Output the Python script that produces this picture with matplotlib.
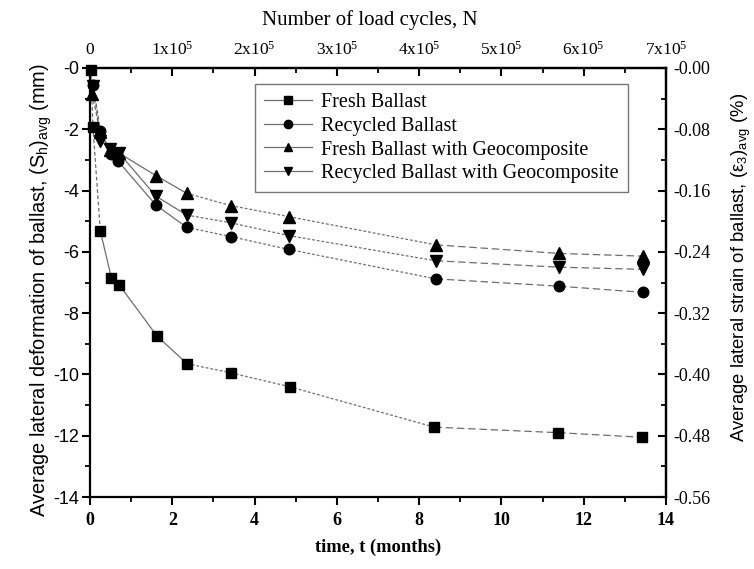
import matplotlib
matplotlib.use("Agg")
import matplotlib.pyplot as plt
from matplotlib.lines import Line2D
from matplotlib.ticker import MultipleLocator, FuncFormatter, FixedLocator

plt.rcParams["axes.unicode_minus"] = False
plt.rcParams["mathtext.default"] = "regular"

SERIF = ["Liberation Serif", "DejaVu Serif"]
SANS = ["Liberation Sans", "DejaVu Sans"]

# time (months) and average lateral deformation (mm) for each ballast type
t_fresh = [0.02, 0.07, 0.25, 0.52, 0.71, 1.63, 2.36, 3.43, 4.85, 8.37, 11.38, 13.42]
s_fresh = [-0.05, -1.92, -5.32, -6.85, -7.08, -8.75, -9.65, -9.95, -10.40, -11.72, -11.90, -12.05]

t_recycled = [0.08, 0.25, 0.50, 0.69, 1.60, 2.35, 3.42, 4.83, 8.40, 11.40, 13.43]
s_recycled = [-0.55, -2.05, -2.80, -3.05, -4.47, -5.20, -5.50, -5.92, -6.88, -7.12, -7.32]

t_fresh_geo = [0.05, 0.25, 0.49, 0.71, 1.60, 2.35, 3.42, 4.83, 8.40, 11.40, 13.43]
s_fresh_geo = [-0.85, -2.10, -2.68, -2.78, -3.51, -4.09, -4.49, -4.85, -5.77, -6.05, -6.14]

t_recycled_geo = [0.08, 0.25, 0.49, 0.71, 1.60, 2.35, 3.42, 4.83, 8.40, 11.40, 13.43]
s_recycled_geo = [-0.60, -2.37, -2.65, -2.78, -4.18, -4.80, -5.05, -5.47, -6.29, -6.50, -6.57]

labels = ["Fresh Ballast", "Recycled Ballast",
          "Fresh Ballast with Geocomposite", "Recycled Ballast with Geocomposite"]
markers = ["s", "o", "^", "v"]

# axis scales
y_ticks = list(range(0, -15, -2))
strain_per_mm = 0.04          # (%) strain per mm of lateral deformation
cycles_per_month = 5e4        # load cycles per month
top_ticks = [0, 1e5, 2e5, 3e5, 4e5, 5e5, 6e5, 7e5]
top_labels = ["0"] + [f"{k}x10$^{{5}}$" for k in range(1, 8)]
strain_ticks = [-0.08 * k for k in range(8)]

fig = plt.figure(figsize=(7.54, 5.69), dpi=100)
ax = fig.add_axes([0.1194, 0.1265, 0.7639, 0.7540])

LINE_C = "#6e6e6e"


def seg_style(t_end):
    if t_end <= 0.3:
        return (0, (3, 2))
    if t_end <= 2.4:
        return "-"
    if t_end <= 8.5:
        return (0, (2.2, 1.6))
    return (0, (6, 3))


series = [(t_fresh, s_fresh), (t_recycled, s_recycled),
          (t_fresh_geo, s_fresh_geo), (t_recycled_geo, s_recycled_geo)]
msizes = [7.2, 7.6, 8.2, 8.2]

for (tx, sy), mk, ms in zip(series, markers, msizes):
    for i in range(len(tx) - 1):
        ax.plot(tx[i:i + 2], sy[i:i + 2], color=LINE_C, lw=0.9,
                ls=seg_style(tx[i + 1]), zorder=2)
    ax.plot(tx, sy, ls="none", marker=mk, ms=ms, color="black",
            mfc="black", mec="black", zorder=3, clip_on=False)

ax.set_xlim(0, 14)
ax.set_ylim(-14, 0)

for sp in ax.spines.values():
    sp.set_linewidth(1.6)

ax.xaxis.set_major_locator(MultipleLocator(2))
ax.xaxis.set_minor_locator(MultipleLocator(1))
ax.yaxis.set_major_locator(FixedLocator(y_ticks))
ax.yaxis.set_minor_locator(MultipleLocator(1))
ax.yaxis.set_major_formatter(FuncFormatter(lambda v, p: f"-{abs(v):g}"))
ax.xaxis.set_major_formatter(FuncFormatter(lambda v, p: f"{v:g}"))

ax.tick_params(axis="x", which="major", direction="out", length=6, width=1.5,
               labelsize=13, pad=5)
ax.tick_params(axis="x", which="minor", direction="out", length=3.5, width=1.3)
ax.tick_params(axis="y", which="major", direction="out", length=6, width=1.5,
               labelsize=13, pad=2)
ax.tick_params(axis="y", which="minor", direction="out", length=3.5, width=1.3)
ax.tick_params(top=False, right=False, which="both")

for lab in ax.get_xticklabels():
    lab.set_fontfamily(SERIF)
    lab.set_fontweight("bold")
for lab in ax.get_yticklabels():
    lab.set_fontfamily(SANS)

ax.set_xlabel("time, t (months)", fontfamily=SERIF, fontweight="bold",
              fontsize=13.3, labelpad=7)
ax.set_ylabel("Average lateral deformation of ballast, (S$_{h}$)$_{avg}$ (mm)",
              fontfamily=SANS, fontsize=14.4, labelpad=-1, y=0.482)

# top axis: number of load cycles
top = ax.secondary_xaxis("top", functions=(lambda t: t * cycles_per_month,
                                           lambda n: n / cycles_per_month))
top.xaxis.set_major_locator(FixedLocator(top_ticks))
top.xaxis.set_minor_locator(MultipleLocator(5e4))
top.set_xticklabels(top_labels, fontfamily=SERIF, fontsize=12.5)
top.tick_params(which="major", direction="in", length=6, width=1.5, pad=7)
top.tick_params(which="minor", direction="in", length=3.5, width=1.3)
top.spines["top"].set_linewidth(1.6)
top.set_xlabel("Number of load cycles, N", fontfamily=SERIF, fontsize=15,
               labelpad=11, x=0.485)

# right axis: average lateral strain
right = ax.secondary_yaxis("right", functions=(lambda s: s * strain_per_mm,
                                               lambda e: e / strain_per_mm))
right.yaxis.set_major_locator(FixedLocator(strain_ticks))
right.yaxis.set_minor_locator(MultipleLocator(0.04))
right.yaxis.set_major_formatter(FuncFormatter(lambda v, p: f"-{abs(v):.2f}"))
right.tick_params(which="major", direction="in", length=6, width=1.5,
                  labelsize=13, pad=5)
right.tick_params(which="minor", direction="in", length=3.5, width=1.3)
right.spines["right"].set_linewidth(1.6)
for lab in right.get_yticklabels():
    lab.set_fontfamily(SERIF)
right.set_ylabel("Average lateral strain of ballast, (ε$_{3}$)$_{avg}$ (%)",
                 fontfamily=SANS, fontsize=13.3, labelpad=14, y=0.536)

handles = [Line2D([], [], color=LINE_C, lw=0.9, marker=mk, ms=6,
                  mfc="black", mec="black") for mk in markers]
leg = ax.legend(handles, labels, loc="upper left", bbox_to_anchor=(0.286, 0.962),
                prop={"family": SERIF, "size": 14.5}, frameon=True, fancybox=False,
                handlelength=2.4, handletextpad=0.45, borderpad=0.45,
                labelspacing=0.22, borderaxespad=0)
leg.get_frame().set_edgecolor("#555555")
leg.get_frame().set_linewidth(1.0)

fig.savefig("out.png", dpi=100)
